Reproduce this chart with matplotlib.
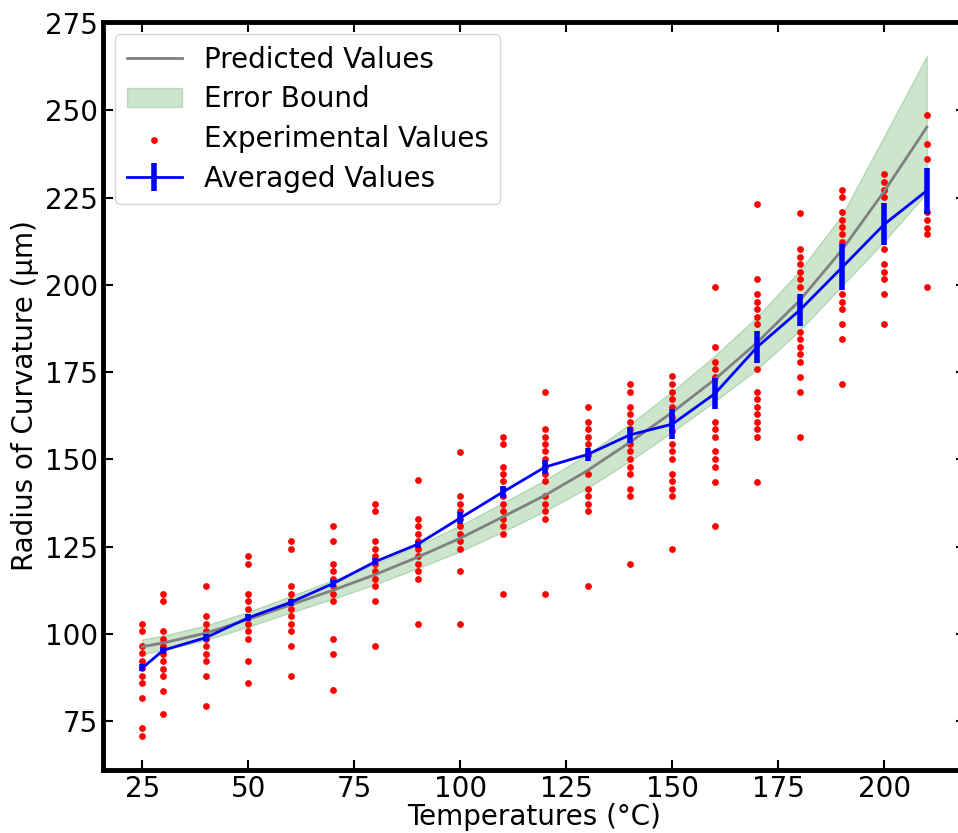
import numpy as np
import matplotlib
matplotlib.use("Agg")
import matplotlib.pyplot as plt

temps = [25, 30, 40, 50, 60, 70, 80, 90, 100, 110, 120, 130, 140, 150, 160, 170, 180, 190, 200, 210]

# predicted curve and its error bound
predicted = [96.3, 97.4, 100.2, 104.1, 108.3, 112.5, 117.0, 122.0, 127.4, 133.5,
             139.7, 146.8, 154.9, 163.5, 172.9, 183.5, 195.5, 210.0, 226.9, 245.2]
bound_low = [94.2, 95.3, 98.2, 102.0, 106.1, 110.0, 114.2, 118.8, 123.6, 129.2,
             135.2, 141.8, 149.5, 157.8, 166.6, 175.8, 186.9, 199.7, 212.5, 226.4]
bound_high = [98.4, 99.5, 102.4, 106.3, 110.8, 115.4, 120.1, 125.4, 131.1, 137.5,
              144.1, 151.5, 160.1, 169.5, 179.7, 190.9, 204.0, 220.0, 242.7, 265.6]

# experimental measurements per temperature
experimental = {
    25: [102.9, 100.8, 96.5, 94.4, 92.2, 90.1, 87.9, 85.8, 81.5, 72.9, 70.7],
    30: [111.5, 109.3, 100.8, 98.6, 96.5, 95.3, 94.3, 92.2, 90.0, 87.9, 83.7, 77.1],
    40: [113.7, 105.1, 102.9, 100.8, 98.6, 96.5, 94.3, 92.2, 87.9, 79.3],
    50: [122.2, 120.0, 111.5, 109.3, 107.0, 104.8, 102.7, 100.8, 98.6, 92.2, 85.8],
    60: [126.5, 124.3, 113.7, 111.5, 109.3, 107.2, 105.0, 102.9, 100.8, 96.5, 87.9],
    70: [130.9, 126.5, 120.1, 118.0, 115.8, 113.6, 111.5, 109.4, 98.6, 94.3, 83.9],
    80: [137.1, 135.1, 126.5, 124.3, 122.2, 120.1, 117.9, 115.8, 113.6, 109.3, 96.5],
    90: [144.0, 133.0, 130.8, 128.7, 126.5, 124.4, 122.2, 120.1, 117.9, 115.8, 102.9],
    100: [152.0, 139.5, 137.1, 135.1, 133.0, 130.8, 128.7, 126.5, 124.3, 118.0, 102.9],
    110: [156.5, 154.4, 147.9, 145.8, 143.7, 141.5, 139.4, 137.2, 135.1, 133.0, 130.8, 128.7, 111.5],
    120: [169.4, 158.7, 156.5, 154.4, 152.3, 150.1, 147.9, 145.8, 143.7, 139.4, 137.2, 135.1, 133.0, 111.5],
    130: [165.1, 160.8, 158.7, 156.5, 154.4, 151.2, 145.8, 141.5, 139.4, 137.2, 135.1, 113.6],
    140: [171.6, 169.4, 165.1, 163.0, 160.8, 158.7, 154.4, 152.3, 150.1, 147.9, 145.8, 141.5, 139.4, 120.1],
    150: [173.8, 171.6, 169.4, 167.3, 165.1, 162.0, 158.0, 154.4, 152.3, 150.1, 145.8, 143.7, 141.5, 139.4, 124.4],
    160: [199.5, 182.3, 178.0, 175.9, 173.7, 160.8, 158.7, 156.5, 152.3, 150.1, 147.9, 143.6, 130.8],
    170: [223.1, 201.6, 197.3, 195.2, 193.0, 190.9, 188.8, 175.9, 169.4, 167.3, 165.1, 163.0, 160.8, 158.7, 156.5, 143.6],
    180: [220.6, 210.2, 208.0, 205.9, 203.7, 201.6, 199.5, 186.6, 184.5, 182.3, 180.2, 178.0, 173.7, 169.4, 156.5],
    190: [227.3, 225.2, 220.9, 218.7, 216.6, 214.5, 212.3, 197.3, 195.2, 193.0, 188.8, 184.5, 171.6],
    200: [231.7, 229.5, 227.3, 225.2, 210.2, 205.9, 203.8, 201.6, 197.3, 188.8],
    210: [248.7, 240.3, 236.0, 220.8, 218.5, 216.4, 214.5, 199.5],
}

averaged = [90.2, 95.3, 98.9, 104.6, 109.0, 114.4, 120.7, 125.7, 133.2, 140.6,
            147.8, 151.4, 157.0, 160.1, 168.8, 182.2, 192.7, 205.0, 217.4, 227.0]
avg_err = [1.0, 1.0, 0.9, 1.0, 0.9, 1.0, 1.1, 1.0, 1.8, 1.8,
           2.0, 1.9, 2.2, 4.3, 4.4, 4.6, 4.6, 6.6, 6.1, 6.6]

exp_x = []
exp_y = []
for t in temps:
    for v in experimental[t]:
        exp_x.append(t)
        exp_y.append(v)

fs = 20
fig = plt.figure(figsize=(9.58, 8.33), dpi=100)
# right edge of the axes sits just past the figure edge, as in the original crop
ax = fig.add_axes([0.1075, 0.0756, 0.9009, 0.898])

ax.plot(temps, predicted, color="grey", lw=2, label="Predicted Values")
ax.fill_between(temps, bound_low, bound_high, color="green", alpha=0.2, label="Error Bound")
ax.scatter(exp_x, exp_y, s=15, color="red", label="Experimental Values")
ax.errorbar(temps, averaged, yerr=avg_err, color="blue", lw=2, elinewidth=4,
            capsize=0, label="Averaged Values")

ax.set_xticks([25, 50, 75, 100, 125, 150, 175, 200])
ax.set_yticks([75, 100, 125, 150, 175, 200, 225, 250, 275])
ax.tick_params(direction="in", length=7, width=1.5, top=True, right=True, labelsize=fs)
for s in ax.spines.values():
    s.set_linewidth(3.5)
ax.spines["right"].set_visible(False)

ax.set_xlabel("Temperatures (°C)", fontsize=fs, labelpad=0)
ax.set_ylabel("Radius of Curvature (µm)", fontsize=fs)
ax.legend(loc="upper left", fontsize=fs, labelspacing=0.42, borderaxespad=0.45)

fig.savefig("out.png", dpi=100)
